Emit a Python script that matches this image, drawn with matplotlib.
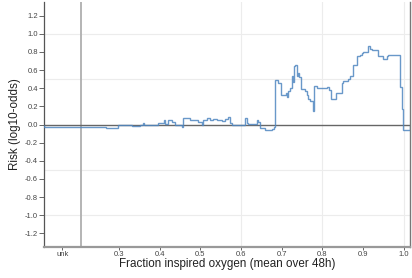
import matplotlib.pyplot as plt
import numpy as np

plt.rcParams['font.family'] = ['Liberation Sans', 'DejaVu Sans']

# step function: left bin edges and risk values (last edge closes the final bin)
edges = [0.116, 0.268, 0.298, 0.331, 0.352, 0.358, 0.362, 0.397, 0.410, 0.413,
         0.421, 0.430, 0.438, 0.454, 0.458, 0.474, 0.495, 0.503, 0.507, 0.515,
         0.523, 0.532, 0.540, 0.552, 0.560, 0.568, 0.572, 0.577, 0.610, 0.614,
         0.618, 0.638, 0.642, 0.646, 0.659, 0.675, 0.680, 0.683, 0.691, 0.698,
         0.710, 0.714, 0.716, 0.720, 0.724, 0.727, 0.730, 0.732, 0.737, 0.741,
         0.743, 0.746, 0.757, 0.761, 0.765, 0.769, 0.776, 0.779, 0.786, 0.806,
         0.812, 0.817, 0.821, 0.833, 0.847, 0.850, 0.863, 0.868, 0.876, 0.886,
         0.891, 0.896, 0.900, 0.913, 0.917, 0.921, 0.937, 0.949, 0.958, 0.962,
         0.990, 0.995, 0.999, 1.015]
risk = [-0.025, -0.036, -0.011, -0.022, -0.008, 0.02, -0.008, 0.02, 0.05, 0.01,
        0.055, 0.03, -0.008, -0.03, 0.07, 0.05, 0.03, 0.0, 0.045, 0.07,
        0.045, 0.06, 0.045, 0.035, 0.06, 0.08, 0.02, 0.0, 0.07, 0.02,
        0.01, 0.05, 0.03, -0.04, -0.066, -0.055, -0.03, 0.49, 0.46, 0.33,
        0.35, 0.30, 0.37, 0.40, 0.53, 0.47, 0.645, 0.66, 0.53, 0.57,
        0.52, 0.39, 0.37, 0.33, 0.28, 0.26, 0.15, 0.42, 0.40, 0.405,
        0.415, 0.38, 0.28, 0.35, 0.46, 0.48, 0.50, 0.535, 0.66, 0.755,
        0.77, 0.79, 0.80, 0.865, 0.83, 0.82, 0.76, 0.726, 0.76, 0.77,
        0.415, 0.166, -0.06]

xticks = [0.161, 0.3, 0.4, 0.5, 0.6, 0.7, 0.8, 0.9, 1.0]
xticklabels = ['unk', '0.3', '0.4', '0.5', '0.6', '0.7', '0.8', '0.9', '1.0']
yticks = [1.2, 1.0, 0.8, 0.6, 0.4, 0.2, 0.0, -0.2, -0.4, -0.6, -0.8, -1.0, -1.2]
unk_split = 0.206

W, H = 412, 278
fig = plt.figure(figsize=(W / 100, H / 100), dpi=100)
ax = fig.add_axes([44 / W, (H - 247) / H, (410 - 44) / W, (247 - 2) / H])

# light grid
for g in [-1.0, -0.5, 0.5, 1.0]:
    ax.axhline(g, color='#ececec', lw=0.8, zorder=0)
for g in [0.6, 0.8, 1.0]:
    ax.axvline(g, color='#ececec', lw=0.8, zorder=0)

ax.axvline(unk_split, color='#b4b4b4', lw=1.4, zorder=1)
ax.axhline(0, color='#666666', lw=1.0, zorder=2)

ax.stairs(risk, edges, color='#4f86c0', lw=1.0, alpha=0.85, zorder=3)

ax.set_xlim(0.1157, 1.015)
ax.set_ylim(-1.35, 1.35)
ax.set_xticks(xticks)
ax.set_xticklabels(xticklabels)
ax.set_yticks(yticks)
ax.set_yticklabels([f'{v:.1f}' for v in yticks])
ax.tick_params(labelsize=5.5, labelcolor='#444444', color='#666666', width=0.7)
ax.tick_params(axis='y', length=3.3, pad=1)
ax.tick_params(axis='x', length=2.2, pad=0.5)

ax.spines['top'].set_visible(False)
ax.spines['left'].set_color('#555555')
ax.spines['left'].set_linewidth(0.9)
ax.spines['bottom'].set_color('#999999')
ax.spines['bottom'].set_linewidth(1.6)
ax.spines['right'].set_color('#777777')
ax.spines['right'].set_linewidth(1.0)

ax.set_ylabel('Risk (log10-odds)', fontsize=8.4, color='#222222')
ax.set_xlabel('Fraction inspired oxygen (mean over 48h)', fontsize=8.4,
              color='#222222')
ax.yaxis.set_label_coords((21 - 44) / 366, 0.5)
ax.xaxis.set_label_coords(0.5, (247 - 257.5) / 245)

fig.savefig('out.png', dpi=100)
